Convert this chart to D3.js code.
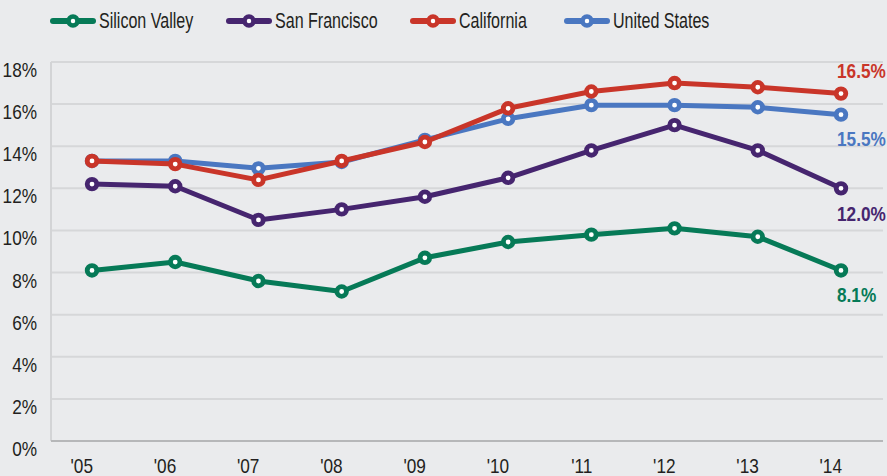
<!DOCTYPE html>
<html>
<head>
<meta charset="utf-8">
<script src="https://cdn.jsdelivr.net/npm/d3@7"></script>
<style>
  body { margin: 0; background: #eaebed; }
  svg { display: block; font-family: "Liberation Sans", Arial, sans-serif; }
</style>
</head>
<body>
<svg class="chart"></svg>
<script>
// years and tick labels
var years = ["'05", "'06", "'07", "'08", "'09", "'10", "'11", "'12", "'13", "'14"]
var yTicks = [0, 2, 4, 6, 8, 10, 12, 14, 16, 18]

// series values in percent
var siliconValley = [8.1, 8.5, 7.6, 7.1, 8.7, 9.45, 9.8, 10.1, 9.7, 8.1]
var sanFrancisco = [12.2, 12.1, 10.5, 11.0, 11.6, 12.5, 13.8, 15.0, 13.8, 12.0]
var california = [13.3, 13.15, 12.4, 13.3, 14.2, 15.8, 16.6, 17.0, 16.8, 16.5]
var unitedStates = [13.3, 13.3, 12.95, 13.25, 14.3, 15.3, 15.95, 15.95, 15.85, 15.5]

var seriesNames = ["Silicon Valley", "San Francisco", "California", "United States"]
var seriesColors = ["#067a57", "#46256f", "#c93529", "#4a77c1"]
var endLabels = ["8.1%", "12.0%", "16.5%", "15.5%"]

var screen = { width: 887, height: 476 }
var margins = { top: 62, bottom: 35, left: 51, right: 4 }

var svg = d3.select('.chart')
  .attr('width', screen.width)
  .attr('height', screen.height)

var allSeries = [siliconValley, sanFrancisco, california, unitedStates]

// condensed look: squeeze Liberation Sans horizontally
var narrowText = function(parent, tx, ty, str, anchor, size, fill, weight, squeeze) {
  return parent.append('g')
    .attr('transform', 'translate(' + tx + ',' + ty + ') scale(' + (squeeze || 0.82) + ',1)')
    .append('text')
    .attr('text-anchor', anchor)
    .attr('font-size', size)
    .attr('font-weight', weight || 'normal')
    .attr('fill', fill)
    .text(str)
}

var x = d3.scalePoint()
  .domain(years)
  .range([92, 841])

var y = d3.scaleLinear()
  .domain([0, 18])
  .range([screen.height - margins.bottom, margins.top])

var right = screen.width - margins.right

// gridlines
svg.append('g')
  .selectAll('line')
  .data(yTicks.filter(function(d) { return d > 0 }))
  .enter()
  .append('line')
  .attr('x1', margins.left)
  .attr('x2', right)
  .attr('y1', function(d) { return y(d) })
  .attr('y2', function(d) { return y(d) })
  .attr('stroke', '#d6d7d9')
  .attr('stroke-width', 2)

// left axis line
svg.append('line')
  .attr('x1', margins.left).attr('x2', margins.left)
  .attr('y1', y(18)).attr('y2', y(0))
  .attr('stroke', '#d3d4d6')
  .attr('stroke-width', 2)

// bottom axis line
svg.append('line')
  .attr('x1', margins.left).attr('x2', right)
  .attr('y1', y(0)).attr('y2', y(0))
  .attr('stroke', '#b6b7b9')
  .attr('stroke-width', 2)

// y labels (sit just under their gridline)
var yLab = svg.append('g')
yTicks.forEach(function(d) {
  narrowText(yLab, 37, y(d) + 15, d + '%', 'end', 21, '#231f20')
})

// x labels (end at the point position)
var xLab = svg.append('g')
years.forEach(function(d) {
  narrowText(xLab, x(d) + 1, 473, d, 'end', 21, '#231f20')
})

var line = d3.line()
  .x(function(d, i) { return x(years[i]) })
  .y(function(d) { return y(d) })

// draw order: green, purple, blue, red
var drawOrder = [0, 1, 3, 2]
drawOrder.forEach(function(k) {
  var g = svg.append('g')
  g.append('path')
    .datum(allSeries[k])
    .attr('d', line)
    .attr('fill', 'none')
    .attr('stroke', seriesColors[k])
    .attr('stroke-width', 5)
    .attr('stroke-linejoin', 'round')
  g.selectAll('circle')
    .data(allSeries[k])
    .enter()
    .append('circle')
    .attr('cx', function(d, i) { return x(years[i]) })
    .attr('cy', function(d) { return y(d) })
    .attr('r', 4.8)
    .attr('fill', 'white')
    .attr('stroke', seriesColors[k])
    .attr('stroke-width', 4.8)
})

// end labels
var labelOffsets = [32, 33, -16, 31]
var endG = svg.append('g')
allSeries.forEach(function(s, k) {
  narrowText(endG, 837, y(s[s.length - 1]) + labelOffsets[k], endLabels[k], 'start', 21, seriesColors[k], 'bold')
})

// legend
var legendX = [53, 229, 413, 567]
var legend = svg.append('g')
seriesNames.forEach(function(name, k) {
  var lx = legendX[k]
  legend.append('line')
    .attr('x1', lx).attr('x2', lx + 40)
    .attr('y1', 21).attr('y2', 21)
    .attr('stroke', seriesColors[k])
    .attr('stroke-width', 6)
    .attr('stroke-linecap', 'round')
  legend.append('circle')
    .attr('cx', lx + 20).attr('cy', 21)
    .attr('r', 4.5)
    .attr('fill', 'white')
    .attr('stroke', seriesColors[k])
    .attr('stroke-width', 4.5)
  narrowText(legend, lx + 46, 28, name, 'start', 22, '#231f20', 'normal', 0.73)
})
</script>
</body>
</html>
